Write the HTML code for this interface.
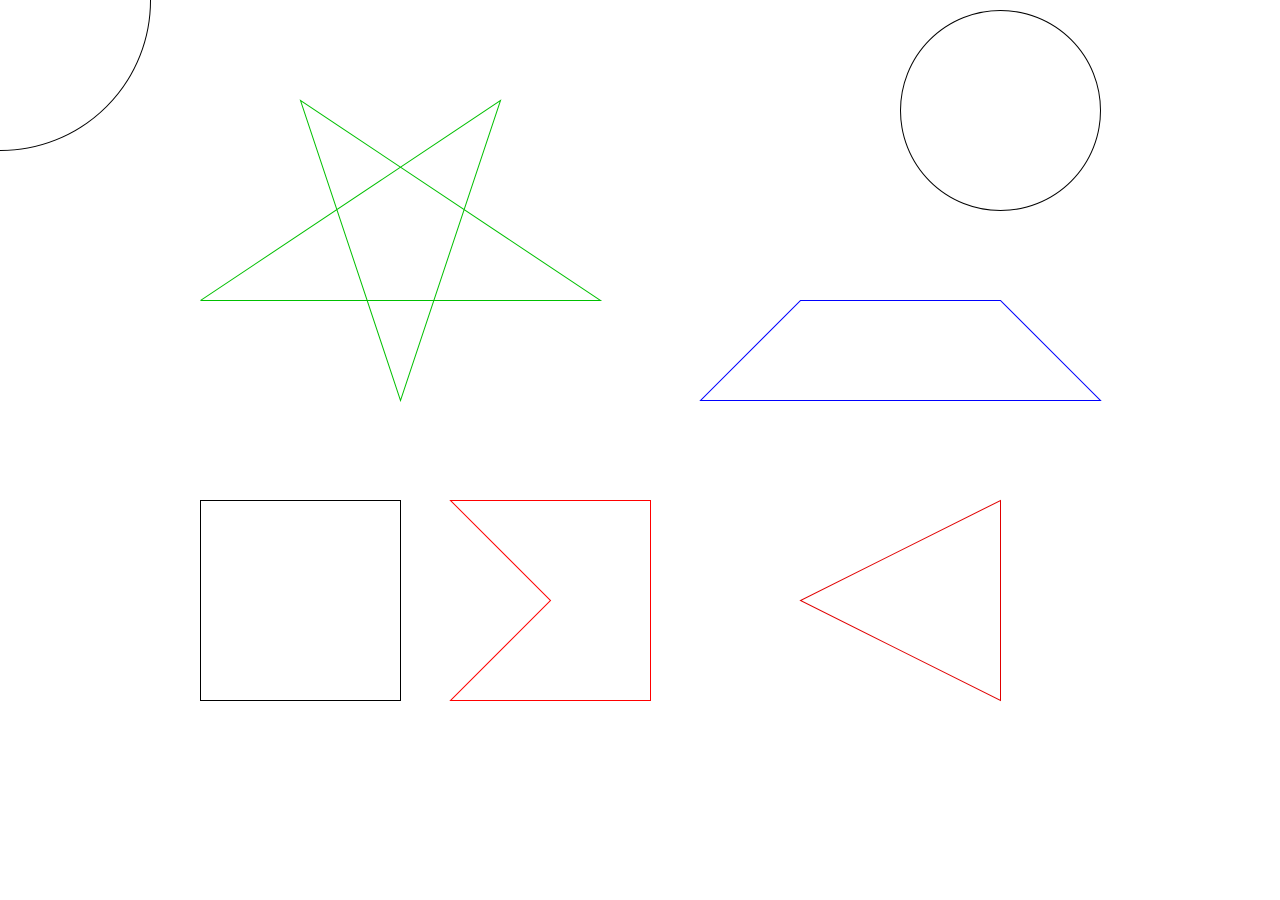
<!DOCTYPE html>
<html>
<head>
<meta charset="utf-8">
<style>
  html, body { margin: 0; padding: 0; background: #ffffff; }
  svg { display: block; }
</style>
</head>
<body>
<svg width="1280" height="900" viewBox="0 0 1280 900" xmlns="http://www.w3.org/2000/svg">
  <g transform="translate(0.5,0.5)" fill="none" stroke-width="1">
    <circle cx="0" cy="0" r="150" stroke="#000000"/>
    <polyline points="200,300 600,300 300,100 400,400 500,100 200,300" stroke="#00c000"/>
    <circle cx="1000" cy="110" r="100" stroke="#000000"/>
    <polygon points="800,300 1000,300 1100,400 700,400" stroke="#0000ff"/>
    <rect x="200" y="500" width="200" height="200" stroke="#000000"/>
    <polygon points="450,500 650,500 650,700 450,700 550,600" stroke="#ff0000"/>
    <polygon points="1000,500 1000,700 800,600" stroke="#e00000"/>
  </g>
</svg>
</body>
</html>
